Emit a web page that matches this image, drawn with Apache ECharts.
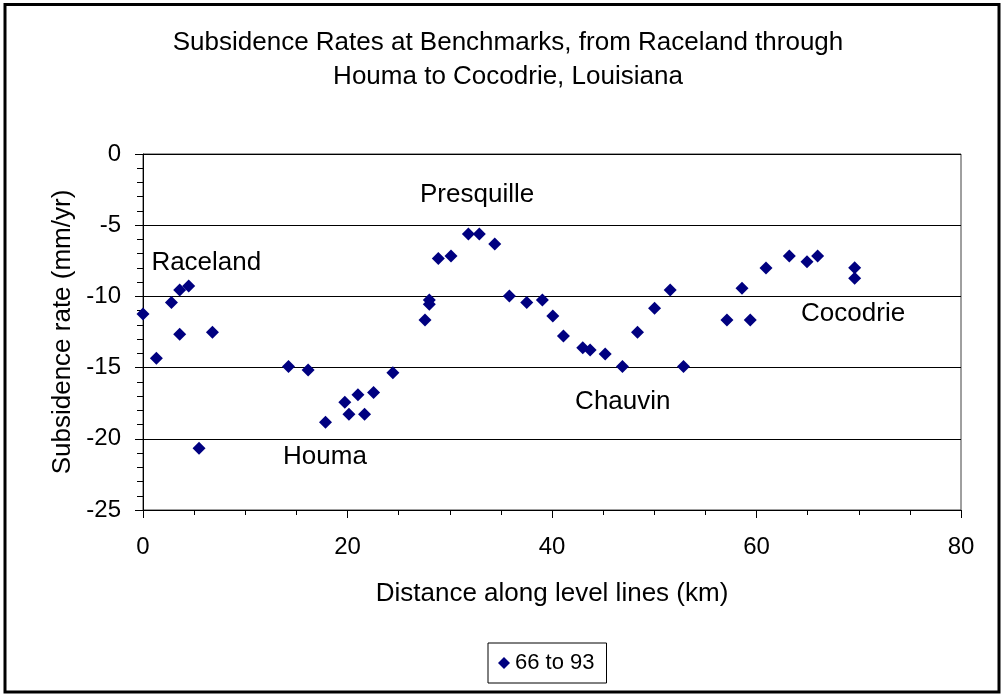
<!DOCTYPE html>
<html>
<head>
<meta charset="utf-8">
<script src="https://cdn.jsdelivr.net/npm/echarts@6/dist/echarts.min.js"></script>
<style>
  html, body { margin: 0; padding: 0; background: #fff; }
  #chart { width: 1001px; height: 694px; }
</style>
</head>
<body>
<div id="chart"></div>
<script>
// distance along level lines (km)
const distance = [
  0.0, 1.31, 2.78, 3.59, 4.47, 3.59, 5.48, 6.79,
  14.23, 16.15, 17.85, 19.74, 20.14, 21.02, 21.67, 22.55, 24.44,
  27.58, 28.0, 28.0, 28.88, 30.12, 31.82, 32.89, 34.4,
  35.83, 37.53, 39.06, 40.08, 41.12, 43.01, 43.73, 45.2, 46.89,
  48.36, 50.03, 51.56, 52.86,
  57.11, 58.58, 59.39, 60.93, 63.21, 64.94, 65.98, 69.6, 69.6
]
// subsidence rate (mm/yr)
const rate = [
  -11.24, -14.35, -10.42, -9.55, -9.27, -12.66, -20.67, -12.52,
  -14.93, -15.17, -18.84, -17.44, -18.28, -16.9, -18.28, -16.74, -15.36,
  -11.66, -10.25, -10.56, -7.33, -7.16, -5.62, -5.62, -6.32,
  -9.97, -10.42, -10.25, -11.38, -12.78, -13.6, -13.76, -14.04, -14.93,
  -12.52, -10.84, -9.55, -14.93,
  -11.66, -9.43, -11.66, -8.01, -7.16, -7.56, -7.16, -7.98, -8.73
]
// place names written on the plot
const placeNames = ['Raceland', 'Houma', 'Presquille', 'Chauvin', 'Cocodrie']
const placeX = [0.82, 13.7, 27.09, 42.26, 64.36]
const placeY = [-7.63, -21.3, -2.88, -17.4, -11.19]

const seriesName = '66 to 93'
const font = "'Liberation Sans', Arial, sans-serif"

const chart = echarts.init(document.getElementById('chart'))
const option = {
  animation: false,
  textStyle: { fontFamily: font, color: '#000' },
  title: {
    text: 'Subsidence Rates at Benchmarks, from Raceland through\nHouma to Cocodrie, Louisiana',
    left: 503,
    top: 21,
    textAlign: 'center',
    textStyle: {
      fontFamily: font,
      fontSize: 26,
      fontWeight: 'normal',
      color: '#000',
      lineHeight: 34
    }
  },
  legend: {
    data: [seriesName],
    left: 488,
    top: 643,
    orient: 'horizontal',
    borderColor: '#000',
    borderWidth: 1,
    padding: [9, 12, 9, 10],
    itemWidth: 12,
    itemHeight: 12,
    itemStyle: { opacity: 1 },
    textStyle: { fontFamily: font, fontSize: 22, color: '#000' }
  },
  grid: {
    left: 143,
    top: 154,
    width: 818,
    height: 356,
    show: true,
    borderColor: '#404040',
    borderWidth: 1
  },
  xAxis: {
    type: 'value',
    min: 0,
    max: 80,
    interval: 20,
    name: 'Distance along level lines (km)',
    nameLocation: 'middle',
    nameGap: 71,
    nameTextStyle: { fontFamily: font, fontSize: 26, color: '#000' },
    axisLine: { show: true, onZero: false, lineStyle: { color: '#000', width: 1 } },
    axisTick: { show: true, inside: false, length: 8, lineStyle: { color: '#000' } },
    minorTick: { show: true, splitNumber: 4, length: 5, lineStyle: { color: '#000' } },
    axisLabel: { fontFamily: font, fontSize: 24, color: '#000', margin: 25 },
    splitLine: { show: false }
  },
  yAxis: {
    type: 'value',
    min: -25,
    max: 0,
    interval: 5,
    name: 'Subsidence rate (mm/yr)',
    nameLocation: 'middle',
    nameGap: 63,
    nameTextStyle: { fontFamily: font, fontSize: 26, color: '#000' },
    axisLine: { show: true, onZero: false, lineStyle: { color: '#000', width: 1 } },
    axisTick: { show: true, inside: false, length: 8, lineStyle: { color: '#000' } },
    minorTick: { show: true, splitNumber: 5, length: 6, lineStyle: { color: '#000' } },
    axisLabel: { fontFamily: font, fontSize: 24, color: '#000', margin: 22 },
    splitLine: { show: true, lineStyle: { color: '#000', width: 1 } }
  },
  series: [
    {
      name: seriesName,
      type: 'scatter',
      symbol: 'diamond',
      symbolSize: [13, 13],
      itemStyle: { color: '#000080', opacity: 1 },
      data: distance.map((d, i) => [d, rate[i]])
    },
    {
      name: 'places',
      type: 'scatter',
      silent: true,
      symbolSize: 0,
      itemStyle: { opacity: 1 },
      label: {
        show: true,
        position: 'right',
        distance: 0,
        formatter: p => p.name,
        fontFamily: font,
        fontSize: 26,
        color: '#000',
        opacity: 1
      },
      data: placeNames.map((n, i) => ({ name: n, value: [placeX[i], placeY[i]] }))
    }
  ],
  graphic: [
    {
      type: 'rect',
      shape: { x: 5, y: 4.5, width: 994, height: 687.5 },
      style: { fill: 'none', stroke: '#000', lineWidth: 3 },
      silent: true,
      z: 100
    }
  ]
}
chart.setOption(option)
</script>
</body>
</html>
